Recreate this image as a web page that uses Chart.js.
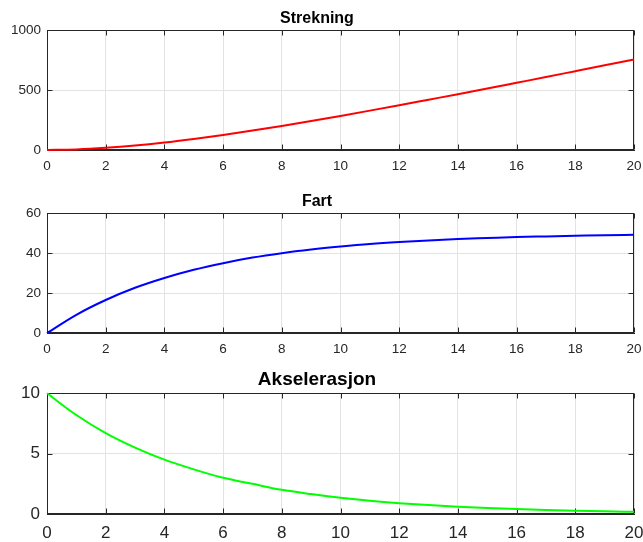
<!DOCTYPE html>
<html>
<head>
<meta charset="utf-8">
<script src="https://cdn.jsdelivr.net/npm/chart.js@4.4.0/dist/chart.umd.min.js"></script>
<style>
html, body { margin: 0; padding: 0; background: #fff; }
#wrap { position: relative; width: 643px; height: 542px; overflow: hidden; }
canvas { position: absolute; left: 0; }
</style>
</head>
<body>
<div id="wrap">
    <canvas id="strekning" width="643" height="180" style="top:0px"></canvas>
    <canvas id="fart" width="643" height="180" style="top:183px"></canvas>
    <canvas id="aks" width="643" height="182" style="top:360px"></canvas>
</div>
<script>
// time (s)
var tid = [0, 1, 2, 3, 4, 5, 6, 7, 8, 9, 10, 11, 12, 13, 14, 15, 16, 17, 18, 19, 20];

// values
var strekning = [0, 5, 18, 37, 62, 92, 125, 162, 200, 241, 284, 328, 373, 419, 465, 512, 560, 608, 657, 706, 755];
var fart = [0, 9.1, 16.5, 22.6, 27.5, 31.6, 34.9, 37.7, 39.9, 41.7, 43.2, 44.5, 45.5, 46.3, 47.0, 47.5, 48.0, 48.3, 48.6, 48.9, 49.1];
var akselerasjon = [10, 8.2, 6.7, 5.5, 4.5, 3.7, 3.0, 2.5, 2.0, 1.65, 1.35, 1.1, 0.9, 0.74, 0.61, 0.5, 0.41, 0.33, 0.27, 0.22, 0.18];

var xTicks = [0, 2, 4, 6, 8, 10, 12, 14, 16, 18, 20];

var FONT = "'Liberation Sans', Arial, Helvetica, sans-serif";
var AXIS_COLOR = '#262626';
var GRID_COLOR = '#e3e3e3';

// box round the axes + inward tick marks, like matlab
var boxPlugin = {
    id: 'matlabBox',
    beforeDatasetsDraw: function(chart) {
        var ctx = chart.ctx;
        var a = chart.chartArea;
        var xs = chart.scales.x, ys = chart.scales.y;
        var L = Math.round(a.left) + 0.5, R = Math.round(a.right) - 0.5;
        var T = Math.round(a.top) + 0.5, B = Math.round(a.bottom) - 0.5;
        ctx.save();
        ctx.strokeStyle = AXIS_COLOR;
        ctx.lineWidth = 1;
        ctx.beginPath();
        for (var i = 0; i < xs.ticks.length; i++) {
            var px = Math.round(xs.getPixelForValue(xs.ticks[i].value)) + 0.5;
            ctx.moveTo(px, B); ctx.lineTo(px, B - 5);
            ctx.moveTo(px, T); ctx.lineTo(px, T + 5);
        }
        for (var j = 0; j < ys.ticks.length; j++) {
            var py = Math.round(ys.getPixelForValue(ys.ticks[j].value)) + 0.5;
            ctx.moveTo(L, py); ctx.lineTo(L + 5, py);
            ctx.moveTo(R, py); ctx.lineTo(R - 5, py);
        }
        ctx.stroke();
        ctx.strokeRect(L, T, R - L, B - T);
        ctx.restore();
    }
};

function makeChart(id, title, values, color, opts) {
    var pts = [];
    for (var i = 0; i < tid.length; i++) {
        pts.push({ x: tid[i], y: values[i] });
    }
    return new Chart(document.getElementById(id), {
        type: 'line',
        data: {
            datasets: [{
                data: pts,
                borderColor: color,
                borderWidth: 2,
                pointRadius: 0,
                fill: false,
                cubicInterpolationMode: 'monotone',
                clip: false
            }]
        },
        plugins: [boxPlugin],
        options: {
            responsive: false,
            animation: false,
            events: [],
            layout: { padding: { top: 0, right: 9, left: 0, bottom: 0 } },
            plugins: {
                legend: { display: false },
                tooltip: { enabled: false },
                title: {
                    display: true,
                    text: title,
                    color: '#000',
                    font: { family: FONT, size: opts.titleSize, weight: 'bold', lineHeight: 1.2 },
                    padding: opts.titlePad
                }
            },
            scales: {
                x: {
                    type: 'linear',
                    min: 0, max: 20,
                    afterBuildTicks: function(s) { s.ticks = xTicks.map(function(v) { return { value: v }; }); },
                    afterFit: function(s) { s.height = opts.xHeight; s.paddingLeft = 0; s.paddingRight = 0; },
                    grid: { color: GRID_COLOR, drawTicks: false },
                    border: { color: AXIS_COLOR },
                    ticks: {
                        color: AXIS_COLOR, font: { family: FONT, size: opts.tickSize }, padding: opts.xPad,
                        maxRotation: 0, autoSkip: false,
                        callback: function(v) { return String(v); }
                    }
                },
                y: {
                    min: 0, max: opts.yMax,
                    afterBuildTicks: function(s) { s.ticks = opts.yTicks.map(function(v) { return { value: v }; }); },
                    afterFit: function(s) { s.width = 47; s.paddingTop = 0; s.paddingBottom = 0; },
                    grid: { color: GRID_COLOR, drawTicks: false },
                    border: { color: AXIS_COLOR },
                    ticks: {
                        color: AXIS_COLOR, font: { family: FONT, size: opts.tickSize }, padding: opts.yPad,
                        callback: function(v) { return String(v); }
                    }
                }
            }
        }
    });
}

makeChart('strekning', 'Strekning', strekning, '#ff0000', {
    titleSize: 16, titlePad: { top: 9, bottom: 1.8 }, tickSize: 13.5,
    xHeight: 30, xPad: 8, yPad: 6, yMax: 1000, yTicks: [0, 500, 1000]
});
makeChart('fart', 'Fart', fart, '#0000ff', {
    titleSize: 16, titlePad: { top: 9, bottom: 1.8 }, tickSize: 13.5,
    xHeight: 30, xPad: 8, yPad: 6, yMax: 60, yTicks: [0, 20, 40, 60]
});
makeChart('aks', 'Akselerasjon', akselerasjon, '#00ff00', {
    titleSize: 19, titlePad: { top: 8, bottom: 2.5 }, tickSize: 17,
    xHeight: 28, xPad: 9, yPad: 7, yMax: 10, yTicks: [0, 5, 10]
});
</script>
</body>
</html>
